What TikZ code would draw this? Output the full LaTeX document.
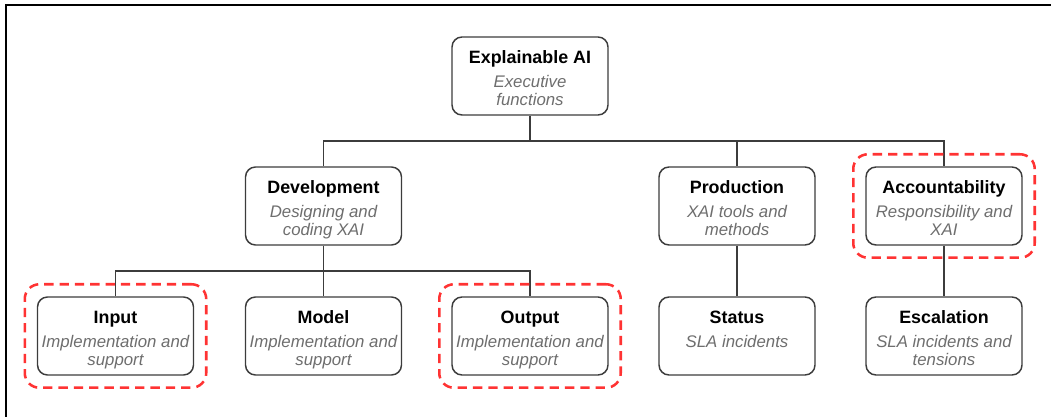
\documentclass[tikz,border=0pt]{standalone}
\usepackage{fontspec}
\setmainfont{Liberation Sans}
\usepackage{xcolor}
\usepackage{tikz}
\usetikzlibrary{positioning,fit}

\definecolor{boxline}{HTML}{3C3C3C}
\definecolor{subgray}{HTML}{6E6E6E}
\definecolor{markred}{HTML}{FF3333}
\newcommand{\unithead}{\upshape\bfseries\fontsize{13.4}{13.7}\selectfont\color{black}\rule{0pt}{16.6pt}}
\newcommand{\unitfoot}{\rule[-3.5pt]{0pt}{3.5pt}}
\tikzset{
  unit/.style={draw=boxline, line width=1.1pt, rounded corners=7.5pt, fill=white,
    minimum width=117pt, minimum height=58.5pt, inner sep=0pt, align=center,
    text=subgray, font=\fontsize{12.6}{13.7}\selectfont\itshape},
  link/.style={draw=boxline, line width=1.1pt},
  focus/.style={draw=markred, line width=1.9pt, dash pattern=on 7pt off 4.5pt,
    rounded corners=11pt, inner sep=9pt},
}

\begin{document}
\begin{tikzpicture}[x=0.75pt,y=-0.75pt]
  \useasboundingbox (0,0) rectangle (1051,417);
  \draw[line width=1.1pt] (6,417) |- (1051,5);
  \foreach \name/\px/\py/\head/\desc in {
      xai/530/76/{Explainable AI}/{Executive\\functions},
      dev/323.5/206/Development/{Designing and\\coding XAI},
      prod/737/206/Production/{XAI tools and\\methods},
      acc/944/206/Accountability/{Responsibility and\\XAI},
      inp/115.5/336/Input/{Implementation and\\support},
      mdl/323.5/336/Model/{Implementation and\\support},
      outp/530/336/Output/{Implementation and\\support},
      stat/737/336/Status/{SLA incidents\\\mbox{}},
      esc/944/336/Escalation/{SLA incidents and\\tensions}}
    \node[unit] (\name) at (\px,\py) {{\unithead\head}\\[4.5pt]\desc\unitfoot};
  % tree connectors
  \coordinate (split1) at (530,141);
  \coordinate (split2) at (323.5,271);
  \draw[link] (xai) -- (split1);
  \foreach \c in {dev,prod,acc}
    \draw[link] (split1) -| (\c);
  \draw[link] (dev) -- (split2);
  \foreach \c in {inp,mdl,outp}
    \draw[link] (split2) -| (\c);
  \draw[link] (prod) -- (stat);
  \draw[link] (acc) -- (esc);
  % highlighted units
  \foreach \c in {inp,outp,acc}
    \node[focus, fit=(\c)] (mark-\c) {};
\end{tikzpicture}
\end{document}
